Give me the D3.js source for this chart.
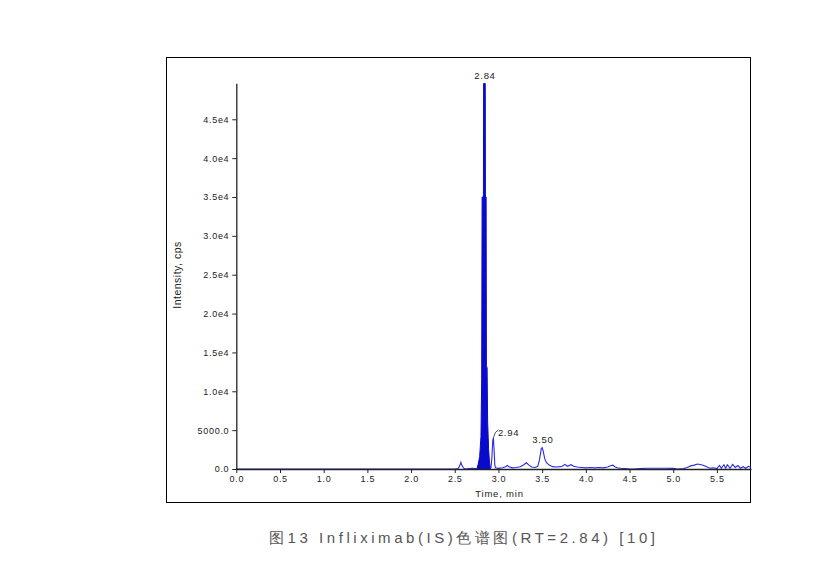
<!DOCTYPE html>
<html><head><meta charset="utf-8">
<script src="https://cdn.jsdelivr.net/npm/d3@7/dist/d3.min.js"></script>
<style>
html,body{margin:0;padding:0;background:#fff;}
svg text{font-family:"Liberation Sans",Arial,sans-serif;}
</style></head>
<body><svg id="c" width="817" height="571"></svg>
<script>
// ---- data ----
const yTicks = [0,5000,10000,15000,20000,25000,30000,35000,40000,45000];
const yTickLabels = ["0.0","5000.0","1.0e4","1.5e4","2.0e4","2.5e4","3.0e4","3.5e4","4.0e4","4.5e4"];
const xTicks = [0,0.5,1.0,1.5,2.0,2.5,3.0,3.5,4.0,4.5,5.0,5.5];
const xTickLabels = ["0.0","0.5","1.0","1.5","2.0","2.5","3.0","3.5","4.0","4.5","5.0","5.5"];

// main peak (filled)
const mainTime = [2.752,2.768,2.785,2.800,2.808,2.813,2.828,2.830,2.849,2.851,2.859,2.862,2.870,2.876,2.887,2.897,2.907];
const mainInt  = [0,600,1600,4200,11500,35000,35000,49600,49600,35000,35000,13300,13000,6200,2600,900,150];

// rest of the trace
const traceTime = [0,2.50,2.54,2.56,2.57,2.58,2.60,2.62,2.66,2.70,2.74,2.752,
  2.907,2.915,2.925,2.935,2.942,2.950,2.958,2.965,3.00,3.05,3.08,3.10,3.12,3.16,3.20,3.25,3.29,3.32,3.35,3.38,3.42,3.45,
  3.47,3.49,3.50,3.51,3.53,3.55,3.58,3.62,3.66,3.70,3.73,3.76,3.79,3.83,3.86,3.90,3.95,4.00,4.05,4.10,4.15,4.20,4.25,
  4.29,4.31,4.33,4.36,4.40,4.45,4.50,4.55,4.62,4.70,4.80,4.90,5.00,5.05,5.12,5.16,5.20,5.24,5.28,5.32,5.35,5.38,5.42,
  5.46,5.50,5.53,5.55,5.58,5.60,5.62,5.65,5.68,5.71,5.74,5.77,5.80,5.83,5.86,5.89];
const traceInt = [0,0,50,500,850,500,150,0,50,80,50,0,
  150,200,1500,3700,4000,2500,600,150,80,150,300,450,300,150,200,300,550,800,500,250,200,350,
  1200,2600,2750,2400,1300,800,500,300,250,300,350,600,350,550,350,250,200,150,200,150,200,150,250,
  450,500,300,150,100,50,0,0,50,100,100,100,80,0,50,200,400,500,650,550,450,300,100,
  150,50,450,100,550,100,550,100,600,200,450,100,300,100,350,200];

const peakLabels = [{t:2.84, v:49600, text:"2.84"},{t:2.942, v:4000, text:"2.94"},{t:3.50, v:2750, text:"3.50"}];
const caption = "图13 Infliximab(IS)色谱图(RT=2.84) [10]";

// ---- drawing ----
const svg = d3.select("#c");
const x = d3.scaleLinear().domain([0,5.89]).range([236.3,751]);
const y = d3.scaleLinear().domain([0,49630]).range([469,83.3]);

svg.append("rect").attr("x",166.5).attr("y",57.5).attr("width",584).attr("height",445)
  .attr("fill","none").attr("stroke","#000").attr("stroke-width",1);

// trace
const mainPts = mainTime.map((t,i)=>[t,mainInt[i]]);
const tracePts = traceTime.map((t,i)=>[t,traceInt[i]]);
svg.append("path").datum(mainPts)
  .attr("d", d3.area().x(d=>x(d[0])).y0(y(0)).y1(d=>y(d[1])))
  .attr("fill","#0a0acc").attr("stroke","#0a0acc").attr("stroke-width",1);
svg.append("path").datum(tracePts.slice(12))
  .attr("d", d3.line().x(d=>x(d[0])).y(d=>y(d[1])))
  .attr("fill","none").attr("stroke","#2a2ae6").attr("stroke-width",1.1);
svg.append("path").datum(tracePts.slice(0,12))
  .attr("d", d3.line().x(d=>x(d[0])).y(d=>y(d[1])))
  .attr("fill","none").attr("stroke","#2a2ae6").attr("stroke-width",1.1);

// axes
const gy = svg.append("g").attr("transform","translate(236.3,0)");
gy.call(d3.axisLeft(y).tickValues(d3.range(0,49001,1000)).tickSize(2).tickFormat(""));
gy.call(d3.axisLeft(y).tickValues(yTicks).tickSizeInner(4).tickSizeOuter(0).tickPadding(3)
  .tickFormat((d,i)=>yTickLabels[i]));
const gx = svg.append("g").attr("transform","translate(0,469)");
gx.call(d3.axisBottom(x).tickValues(d3.range(0,5.85,0.1)).tickSize(2).tickFormat(""));
gx.call(d3.axisBottom(x).tickValues(xTicks).tickSizeInner(4).tickSizeOuter(0).tickPadding(3)
  .tickFormat((d,i)=>xTickLabels[i]));
svg.selectAll(".domain").attr("stroke","#222").attr("stroke-width",1.3);
svg.selectAll(".tick line").attr("stroke","#222");
svg.selectAll(".tick text").attr("font-size","9px").attr("fill","#222")
  .attr("font-family","Liberation Sans, Arial, sans-serif").style("letter-spacing","0.7px");

svg.append("text").attr("x",499.5).attr("y",496.5).attr("text-anchor","middle")
  .attr("font-size","9.5px").attr("fill","#222").style("letter-spacing","0.8px").text("Time, min");
svg.append("text").attr("transform","translate(181,275) rotate(-90)").attr("text-anchor","middle")
  .attr("font-size","10.5px").attr("fill","#222").style("letter-spacing","0.5px").text("Intensity, cps");

// peak labels
const pl = peakLabels;
svg.append("text").attr("x",x(pl[0].t)+0.5).attr("y",y(pl[0].v)-5).attr("text-anchor","middle")
  .attr("font-size","9.5px").attr("fill","#222").style("letter-spacing","0.7px").text(pl[0].text);
const ax2 = x(pl[1].t), ay2 = y(pl[1].v);
svg.append("path").attr("d",`M${ax2},${ay2} Q${ax2+1.5},${ay2-7} ${ax2+5},${ay2-8}`)
  .attr("fill","none").attr("stroke","#222").attr("stroke-width",0.8);
svg.append("text").attr("x",ax2+4.5).attr("y",ay2-2).attr("text-anchor","start")
  .attr("font-size","9.5px").attr("fill","#222").style("letter-spacing","0.7px").text(pl[1].text);
svg.append("text").attr("x",x(pl[2].t)+0.8).attr("y",y(pl[2].v)-4.5).attr("text-anchor","middle")
  .attr("font-size","9.5px").attr("fill","#222").style("letter-spacing","0.7px").text(pl[2].text);

// caption
svg.append("text").attr("x",269).attr("y",542.5)
  .attr("font-family","'Noto Sans CJK SC','Noto Sans',sans-serif").attr("font-size","15px")
  .attr("fill","#555").attr("textLength",386).attr("lengthAdjust","spacing").text(caption);
</script></body></html>
